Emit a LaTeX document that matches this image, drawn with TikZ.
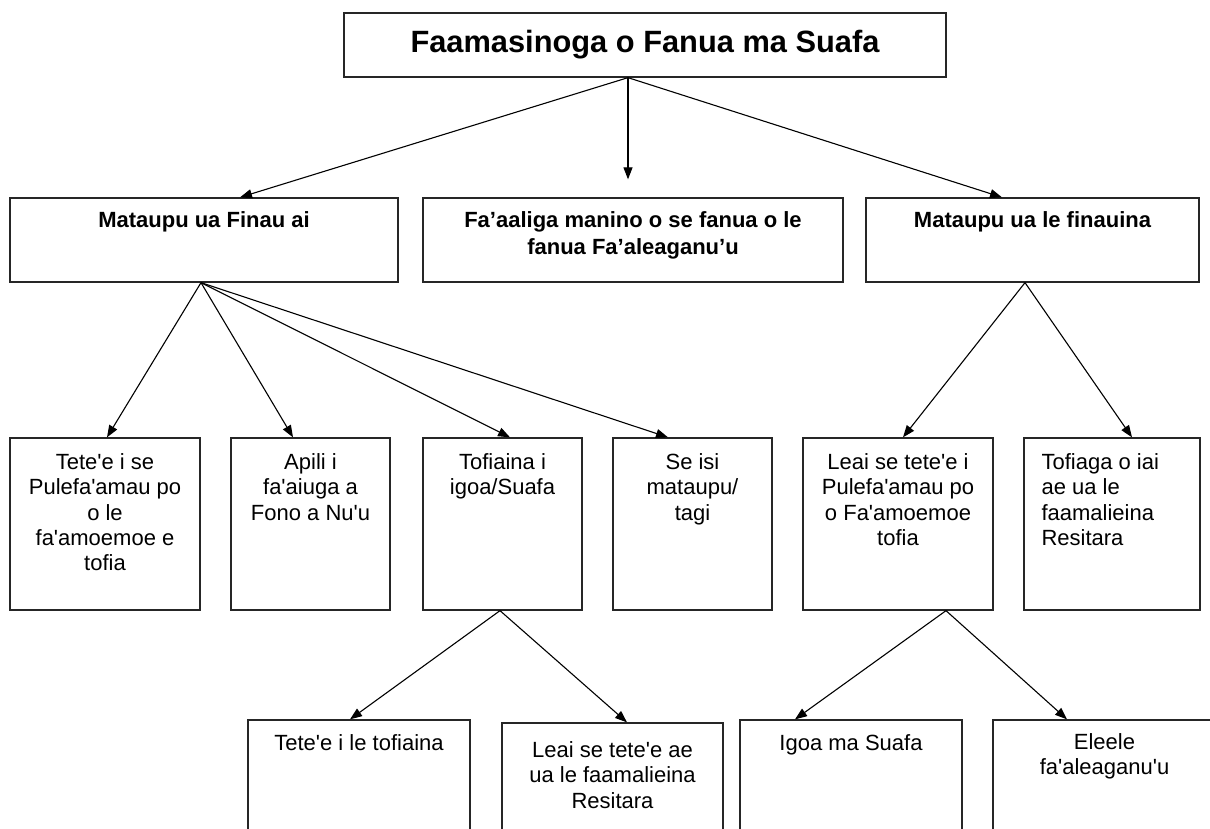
\documentclass[tikz,border=0pt]{standalone}
\usepackage{fontspec}
\setmainfont{Liberation Sans}[Ligatures=TeXOff]
\usetikzlibrary{positioning,arrows.meta}
\tikzset{
  box/.style={draw=black!85, line width=1.3pt, inner sep=0pt},
  txt/.style={align=center, inner sep=0pt, font=\fontsize{22}{25.3}\selectfont},
  hdr/.style={txt, font=\fontsize{22}{27}\selectfont\bfseries},
  arr/.style={line width=1.1pt, -{Triangle[length=12pt,width=9pt]}},
}
\begin{document}
\begin{tikzpicture}[x=1pt, y=-1pt]
  \useasboundingbox (0,0) rectangle (1210,829);
  \clip (0,0) rectangle (1210,829);
  \fill[white] (0,0) rectangle (1210,829);
  % top
  \node (title)[box, minimum width=602pt, minimum height=64pt, font=\fontsize{30.8}{36}\selectfont\bfseries] at (645,45) {Faamasinoga o Fanua ma Suafa};
  % second row
  \node (mfinau)[box, minimum width=388pt, minimum height=84pt] at (204,240) {};
  \node (faaaliga)[box, minimum width=420pt, minimum height=84pt] at (633,240) {};
  \node (mlefinau)[box, minimum width=333pt, minimum height=84pt] at (1032.5,240) {};
  \node (mfinautxt)[hdr, below=14pt of mfinau.north] {Mataupu ua Finau ai};
  \node (faaaligatxt)[hdr, below=14pt of faaaliga.north] {Fa’aaliga manino o se fanua o le\\fanua Fa’aleaganu’u};
  \node (mlefinautxt)[hdr, below=14pt of mlefinau.north] {Mataupu ua le finauina};
  % third row
  \node (tetee)[box, minimum width=190pt, minimum height=172pt] at (105,524) {};
  \node (apili)[box, minimum width=159pt, minimum height=172pt] at (310.5,524) {};
  \node (tofiaina)[box, minimum width=159pt, minimum height=172pt] at (502.5,524) {};
  \node (seisi)[box, minimum width=159pt, minimum height=172pt] at (692.5,524) {};
  \node (leai)[box, minimum width=190pt, minimum height=172pt] at (898,524) {};
  \node (tofiaga)[box, minimum width=176pt, minimum height=172pt] at (1112,524) {};
  \node (teteetxt)[txt, below=16pt of tetee.north] {Tete'e i se\\Pulefa'amau po\\o le\\fa'amoemoe e\\tofia};
  \node (apilitxt)[txt, below=16pt of apili.north] {Apili i\\fa'aiuga a\\Fono a Nu'u};
  \node (tofiainatxt)[txt, below=16pt of tofiaina.north] {Tofiaina i\\igoa/Suafa};
  \node (seisitxt)[txt, below=16pt of seisi.north] {Se isi\\mataupu/\\tagi};
  \node (leaitxt)[txt, below=16pt of leai.north] {Leai se tete'e i\\Pulefa'amau po\\o Fa'amoemoe\\tofia};
  \node (tofiagatxt)[txt, align=left, below right=16pt and 18pt of tofiaga.north west] {Tofiaga o iai\\ae ua le\\faamalieina\\Resitara};
  % fourth row
  \node (tletof)[box, minimum width=222pt, minimum height=180pt] at (359,810) {};
  \node (leairesi)[box, minimum width=221pt, minimum height=177pt] at (612.5,811.5) {};
  \node (igoa)[box, minimum width=222pt, minimum height=180pt] at (851,810) {};
  \node (eleele)[box, minimum width=223pt, minimum height=180pt] at (1104.5,810) {};
  \node (tletoftxt)[txt, below=15pt of tletof.north] {Tete'e i le tofiaina};
  \node (leairesitxt)[txt, below=19pt of leairesi.north] {Leai se tete'e ae\\ua le faamalieina\\Resitara};
  \node (igoatxt)[txt, below=15pt of igoa.north] {Igoa ma Suafa};
  \node (eleeletxt)[txt, below=14pt of eleele.north] {Eleele\\fa'aleaganu'u};
  % arrows
  \draw[arr] ([xshift=-17pt]title.south) -- ([xshift=36pt]mfinau.north);
  \draw[arr] ([xshift=-17pt]title.south) -- ([xshift=-5pt,yshift=18pt]faaaliga.north);
  \draw[arr] ([xshift=-17pt]title.south) -- ([xshift=-30.5pt]mlefinau.north);
  \draw[arr] ([xshift=-3pt]mfinau.south) -- ([xshift=2pt]tetee.north);
  \draw[arr] ([xshift=-3pt]mfinau.south) -- ([xshift=-17.5pt]apili.north);
  \draw[arr] ([xshift=-3pt]mfinau.south) -- ([xshift=7.5pt]tofiaina.north);
  \draw[arr] ([xshift=-3pt]mfinau.south) -- ([xshift=-24.5pt]seisi.north);
  \draw[arr] ([xshift=-7.5pt]mlefinau.south) -- ([xshift=5pt]leai.north);
  \draw[arr] ([xshift=-7.5pt]mlefinau.south) -- ([xshift=20pt]tofiaga.north);
  \draw[arr] ([xshift=-2.5pt]tofiaina.south) -- ([xshift=-9pt]tletof.north);
  \draw[arr] ([xshift=-2.5pt]tofiaina.south) -- ([xshift=14.5pt]leairesi.north);
  \draw[arr] ([xshift=48pt]leai.south) -- ([xshift=-56pt]igoa.north);
  \draw[arr] ([xshift=48pt]leai.south) -- ([xshift=-37.5pt]eleele.north);
\end{tikzpicture}
\end{document}
